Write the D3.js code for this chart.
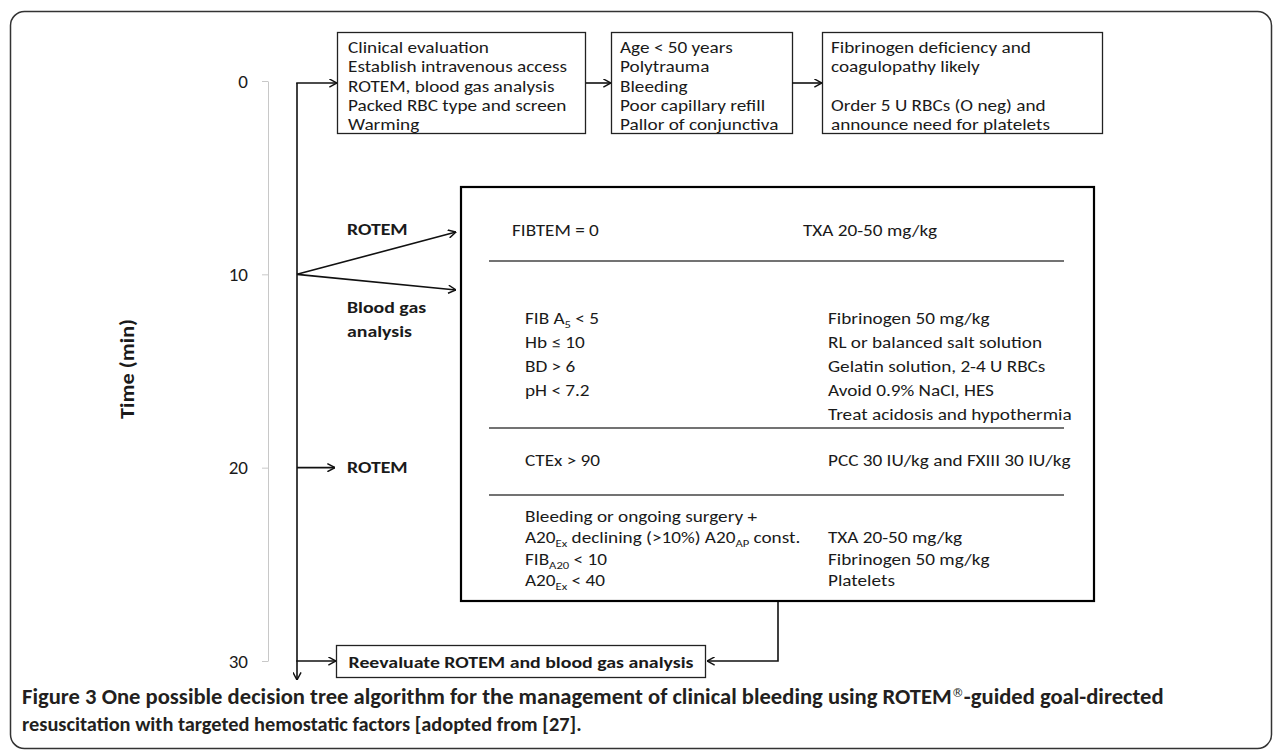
<!DOCTYPE html>
<html>
<head>
<meta charset="utf-8">
<script src="https://cdn.jsdelivr.net/npm/d3@7/dist/d3.min.js"></script>
<style>
  html, body { margin: 0; padding: 0; background: #fff; }
  svg { display: block; }
  text { font-family: Carlito, Lato, "Open Sans", sans-serif; fill: #1a1a1a; }
</style>
</head>
<body>
<svg id="chart" width="1282" height="753"></svg>
<script>
// ---------------- data ----------------
const timeTicks = [0, 10, 20, 30];
const axisTitle = "Time (min)";
const startTime = 0, rotemTime = 10, rotem2Time = 20, reevalTime = 30;

const box1Lines = ["Clinical evaluation", "Establish intravenous access", "ROTEM, blood gas analysis", "Packed RBC type and screen", "Warming"];
const box2Lines = ["Age < 50 years", "Polytrauma", "Bleeding", "Poor capillary refill", "Pallor of conjunctiva"];
const box3Lines = ["Fibrinogen deficiency and", "coagulopathy likely", "", "Order 5 U RBCs (O neg) and", "announce need for platelets"];

const branchLabels = ["ROTEM", "Blood gas", "analysis"];
const rotem2Label = "ROTEM";
const reevalLabel = "Reevaluate ROTEM and blood gas analysis";

// segments: [text, subscript?]
const sec1Cond = [[["FIBTEM = 0"]]];
const sec1Act = [[["TXA 20-50 mg/kg"]]];
const sec2Cond = [[["FIB A"], ["5", 1], [" < 5"]], [["Hb \u2264 10"]], [["BD > 6"]], [["pH <  7.2"]]];
const sec2Act = [[["Fibrinogen 50 mg/kg"]], [["RL or balanced salt solution"]], [["Gelatin solution, 2-4 U RBCs"]], [["Avoid 0.9% NaCl, HES"]], [["Treat acidosis and hypothermia"]]];
const sec3Cond = [[["CTEx > 90"]]];
const sec3Act = [[["PCC 30 IU/kg and FXIII 30 IU/kg"]]];
const sec4Cond = [[["Bleeding or ongoing surgery +"]], [["A20"], ["Ex", 1], [" declining (>10%) A20"], ["AP", 1], [" const."]], [["FIB"], ["A20", 1], [" < 10"]], [["A20"], ["Ex", 1], [" < 40"]]];
const sec4Act = [[["TXA 20-50 mg/kg"]], [["Fibrinogen 50 mg/kg"]], [["Platelets"]]];

const captionBold = "Figure 3";
const captionLine1 = " One possible decision tree algorithm for the management of clinical bleeding using ROTEM";
const captionReg = "\u00AE";
const captionLine1b = "-guided goal-directed";
const captionLine2 = "resuscitation with targeted hemostatic factors [adopted from [27].";

// ---------------- drawing ----------------
const svg = d3.select("#chart");
const FS = 16;            // body text size
const WIDEN = 19.2 / 16;  // horizontal widening to mimic the reference face
const FSB = 16.5;

// widen a text horizontally (keeps glyph heights compact)
function widen(t, k) {
  const len = t.node().getComputedTextLength();
  t.attr("textLength", len * (k || WIDEN)).attr("lengthAdjust", "spacingAndGlyphs");
  return t;
}

// outer border
svg.append("rect").attr("x", 10.5).attr("y", 11.5).attr("width", 1261).attr("height", 737)
  .attr("rx", 14).attr("fill", "none").attr("stroke", "#333").attr("stroke-width", 1.5);

// arrow marker
const defs = svg.append("defs");
defs.append("marker").attr("id", "arr").attr("viewBox", "0 0 10 10")
  .attr("refX", 9.5).attr("refY", 5).attr("markerWidth", 9).attr("markerHeight", 9)
  .attr("markerUnits", "userSpaceOnUse").attr("orient", "auto")
  .append("path").attr("d", "M1,0.5 L9.5,5 L1,9.5").attr("fill", "none")
  .attr("stroke", "#111").attr("stroke-width", 1.6);

const y = d3.scaleLinear().domain([0, 30]).range([81, 661]);

// axis
const axisG = svg.append("g").attr("transform", "translate(268,0)")
  .call(d3.axisLeft(y).tickValues(timeTicks).tickSize(6).tickSizeOuter(0).tickPadding(14));
axisG.select(".domain").attr("stroke", "#c8c8c8");
axisG.selectAll(".tick line").attr("stroke", "#c8c8c8");
axisG.selectAll(".tick text").attr("font-family", "Carlito, Lato, sans-serif").attr("font-size", 19).attr("fill", "#222");

svg.append("text").attr("transform", `translate(134,${y(15) - 2}) rotate(-90)`)
  .attr("text-anchor", "middle").attr("font-weight", "bold").attr("font-size", 20)
  .attr("textLength", 100).attr("lengthAdjust", "spacingAndGlyphs").text(axisTitle);

// timeline
const TX = 297;
const line = (x1, y1, x2, y2, arrow, w) => svg.append("line")
  .attr("x1", x1).attr("y1", y1).attr("x2", x2).attr("y2", y2)
  .attr("stroke", "#111").attr("stroke-width", w || 1.6)
  .attr("marker-end", arrow ? "url(#arr)" : null);

line(TX, y(startTime) + 2, TX, y(reevalTime) + 19, true);

function label(x, yc, s, bold) {
  const t = svg.append("text").attr("x", x).attr("y", yc).attr("dy", "0.35em")
    .attr("font-size", bold ? FSB : FS).attr("font-weight", bold ? "bold" : null).text(s);
  return widen(t);
}

// top boxes
function textBox(x, yTop, w, h, lines, tx, lineH) {
  svg.append("rect").attr("x", x).attr("y", yTop).attr("width", w).attr("height", h)
    .attr("fill", "#fff").attr("stroke", "#222").attr("stroke-width", 1.3);
  lines.forEach((s, i) => { if (s) label(tx, yTop + 15 + i * lineH, s); });
}
const y0 = y(startTime) + 2;
line(TX - 0.8, y0, 337, y0, true);
textBox(337.5, 32.5, 248, 101, box1Lines, 348, 19.3);
line(586, y0, 611, y0, true);
textBox(611.5, 32.5, 181, 101, box2Lines, 620, 19.3);
line(792, y0, 822, y0, true);
textBox(822.5, 32.5, 280, 101, box3Lines, 831, 19.3);

// branches at 10 min
const y10 = y(rotemTime);
line(TX, y10, 456, 232, true);
line(TX, y10, 456, 290, true);
label(347, 229, branchLabels[0], true);
label(347, 307, branchLabels[1], true);
label(347, 331, branchLabels[2], true);

// 20 min
const y20 = y(rotem2Time);
line(TX, y20, 335, y20, true);
label(347, y20, rotem2Label, true);

// big box
svg.append("rect").attr("x", 461).attr("y", 187).attr("width", 633).attr("height", 414)
  .attr("fill", "none").attr("stroke", "#000").attr("stroke-width", 2.2);
[261, 428, 495].forEach(d => svg.append("line").attr("x1", 489).attr("x2", 1064).attr("y1", d).attr("y2", d)
  .attr("stroke", "#444").attr("stroke-width", 1.5));

function rich(lines, x, yStart, lh) {
  lines.forEach((segs, i) => {
    const t = svg.append("text").attr("x", x).attr("y", yStart + i * lh).attr("dy", "0.35em").attr("font-size", FS);
    segs.forEach(s => {
      if (s[1]) {
        t.append("tspan").attr("font-size", 10.5).attr("baseline-shift", "-3.5").text(s[0]);
      } else {
        t.append("tspan").text(s[0]);
      }
    });
    widen(t);
  });
}
rich(sec1Cond, 512, 230, 24);
rich(sec1Act, 803, 230, 24);
rich(sec2Cond, 525, 318, 24);
rich(sec2Act, 828, 318, 24);
rich(sec3Cond, 525, 460, 24);
rich(sec3Act, 828, 460, 24);
rich(sec4Cond, 525, 516, 21.5);
rich(sec4Act, 828, 537.5, 21.5);

// reevaluate
const y30 = y(reevalTime);
line(TX - 0.8, y30, 336, y30, true);
svg.append("rect").attr("x", 336.5).attr("y", 645.5).attr("width", 369).attr("height", 32)
  .attr("fill", "#fff").attr("stroke", "#222").attr("stroke-width", 1.3);
svg.append("text").attr("x", 521).attr("y", y30 + 1).attr("dy", "0.35em").attr("text-anchor", "middle")
  .attr("font-weight", "bold").attr("font-size", FSB).attr("textLength", 345).attr("lengthAdjust", "spacingAndGlyphs")
  .text(reevalLabel);
svg.append("path").attr("d", `M778,602 V${y30} H707`).attr("fill", "none")
  .attr("stroke", "#111").attr("stroke-width", 1.6).attr("marker-end", "url(#arr)");

// caption
const cap1 = svg.append("text").attr("x", 22).attr("y", 704).attr("font-size", 18)
  .attr("font-family", "'Liberation Sans Narrow', Roboto, sans-serif").style("fill", "#231f20");
cap1.append("tspan").attr("font-weight", "bold").text(captionBold);
cap1.append("tspan").attr("font-weight", 600).text(captionLine1);
const reg = cap1.append("tspan").attr("font-family", "'DejaVu Sans', sans-serif").attr("font-weight", 400)
  .attr("font-size", 12).attr("dy", -7).text(captionReg);
cap1.append("tspan").attr("font-weight", 600).attr("dy", 7).text(captionLine1b);
const cap2 = svg.append("text").attr("x", 22).attr("y", 731).attr("font-size", 18)
  .attr("font-family", "'Liberation Sans Narrow', Roboto, sans-serif").style("fill", "#231f20")
  .attr("font-weight", 600).text(captionLine2);
// fit widths to the reference layout
[[cap1, 1145], [cap2, 560]].forEach(([t, w]) => {
  const cur = t.node().getComputedTextLength();
  t.attr("font-size", 18 * w / cur);
});
reg.attr("font-size", 12);
</script>
</body>
</html>
